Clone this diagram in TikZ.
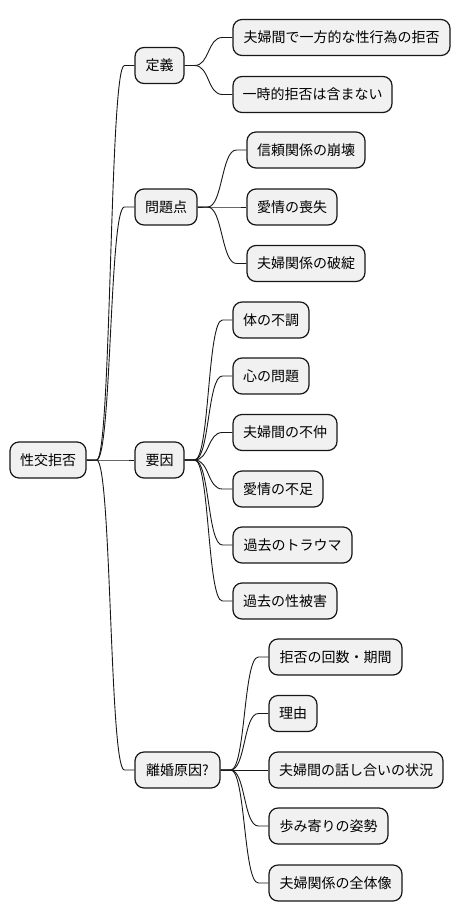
\documentclass[tikz,border=0pt]{standalone}
\usepackage{fontspec}
\newfontfamily\cjk{Noto Sans CJK JP}
\usetikzlibrary{calc}
\definecolor{boxfill}{HTML}{F1F1F1}
\definecolor{ink}{HTML}{181818}
\tikzset{
  box/.style={draw=ink, fill=boxfill, line width=1.2pt, rounded corners=9pt,
    minimum height=36pt, inner xsep=0pt, inner ysep=0pt, align=center,
    font=\cjk\fontsize{14}{16}\selectfont, text=black},
  conn/.style={draw=ink, line width=0.9pt}
}
\newcommand\mmlink[2]{\draw[conn] (#1.east) -- ($(#1.east)+(10,0)$) .. controls ($(#1.east)+(25,0)$) and ($(#2.west)+(-25,0)$) .. ($(#2.west)+(-10,0)$) -- (#2.west);}
\begin{document}
\begin{tikzpicture}[x=1pt,y=-1pt]
\useasboundingbox[fill=white] (0,0) rectangle (460,921);
% root
\node[box, minimum width=76] (root) at (48,460) {性交拒否};
% level 1
\node[box, minimum width=49] (teigi) at (159.5,65.5) {定義};
\node[box, minimum width=62] (mondai) at (166,207) {問題点};
\node[box, minimum width=49] (youin) at (159.5,460) {要因};
\node[box, minimum width=85] (rikon) at (177.5,770) {離婚原因?};
% teigi children
\node[box, minimum width=217] (t1) at (341.5,37.5) {夫婦間で一方的な性行為の拒否};
\node[box, minimum width=159] (t2) at (312.5,94.5) {一時的拒否は含まない};
% mondai children
\node[box, minimum width=118] (m1) at (306,150) {信頼関係の崩壊};
\node[box, minimum width=90] (m2) at (292,207) {愛情の喪失};
\node[box, minimum width=118] (m3) at (306,263.5) {夫婦関係の破綻};
% youin children
\node[box, minimum width=76] (y1) at (271,320) {体の不調};
\node[box, minimum width=76] (y2) at (271,376) {心の問題};
\node[box, minimum width=104] (y3) at (285,432.5) {夫婦間の不仲};
\node[box, minimum width=90] (y4) at (278,489) {愛情の不足};
\node[box, minimum width=119] (y5) at (292.5,545) {過去のトラウマ};
\node[box, minimum width=104] (y6) at (285,601) {過去の性被害};
% rikon children
\node[box, minimum width=133] (r1) at (335.5,657) {拒否の回数・期間};
\node[box, minimum width=48] (r2) at (293,713.5) {理由};
\node[box, minimum width=174] (r3) at (356,770) {夫婦間の話し合いの状況};
\node[box, minimum width=119] (r4) at (328.5,826) {歩み寄りの姿勢};
\node[box, minimum width=133] (r5) at (335.5,883) {夫婦関係の全体像};
% links
\mmlink{root}{teigi}
\mmlink{root}{mondai}
\mmlink{root}{youin}
\mmlink{root}{rikon}
\mmlink{teigi}{t1}
\mmlink{teigi}{t2}
\mmlink{mondai}{m1}
\mmlink{mondai}{m2}
\mmlink{mondai}{m3}
\mmlink{youin}{y1}
\mmlink{youin}{y2}
\mmlink{youin}{y3}
\mmlink{youin}{y4}
\mmlink{youin}{y5}
\mmlink{youin}{y6}
\mmlink{rikon}{r1}
\mmlink{rikon}{r2}
\mmlink{rikon}{r3}
\mmlink{rikon}{r4}
\mmlink{rikon}{r5}
\end{tikzpicture}
\end{document}
